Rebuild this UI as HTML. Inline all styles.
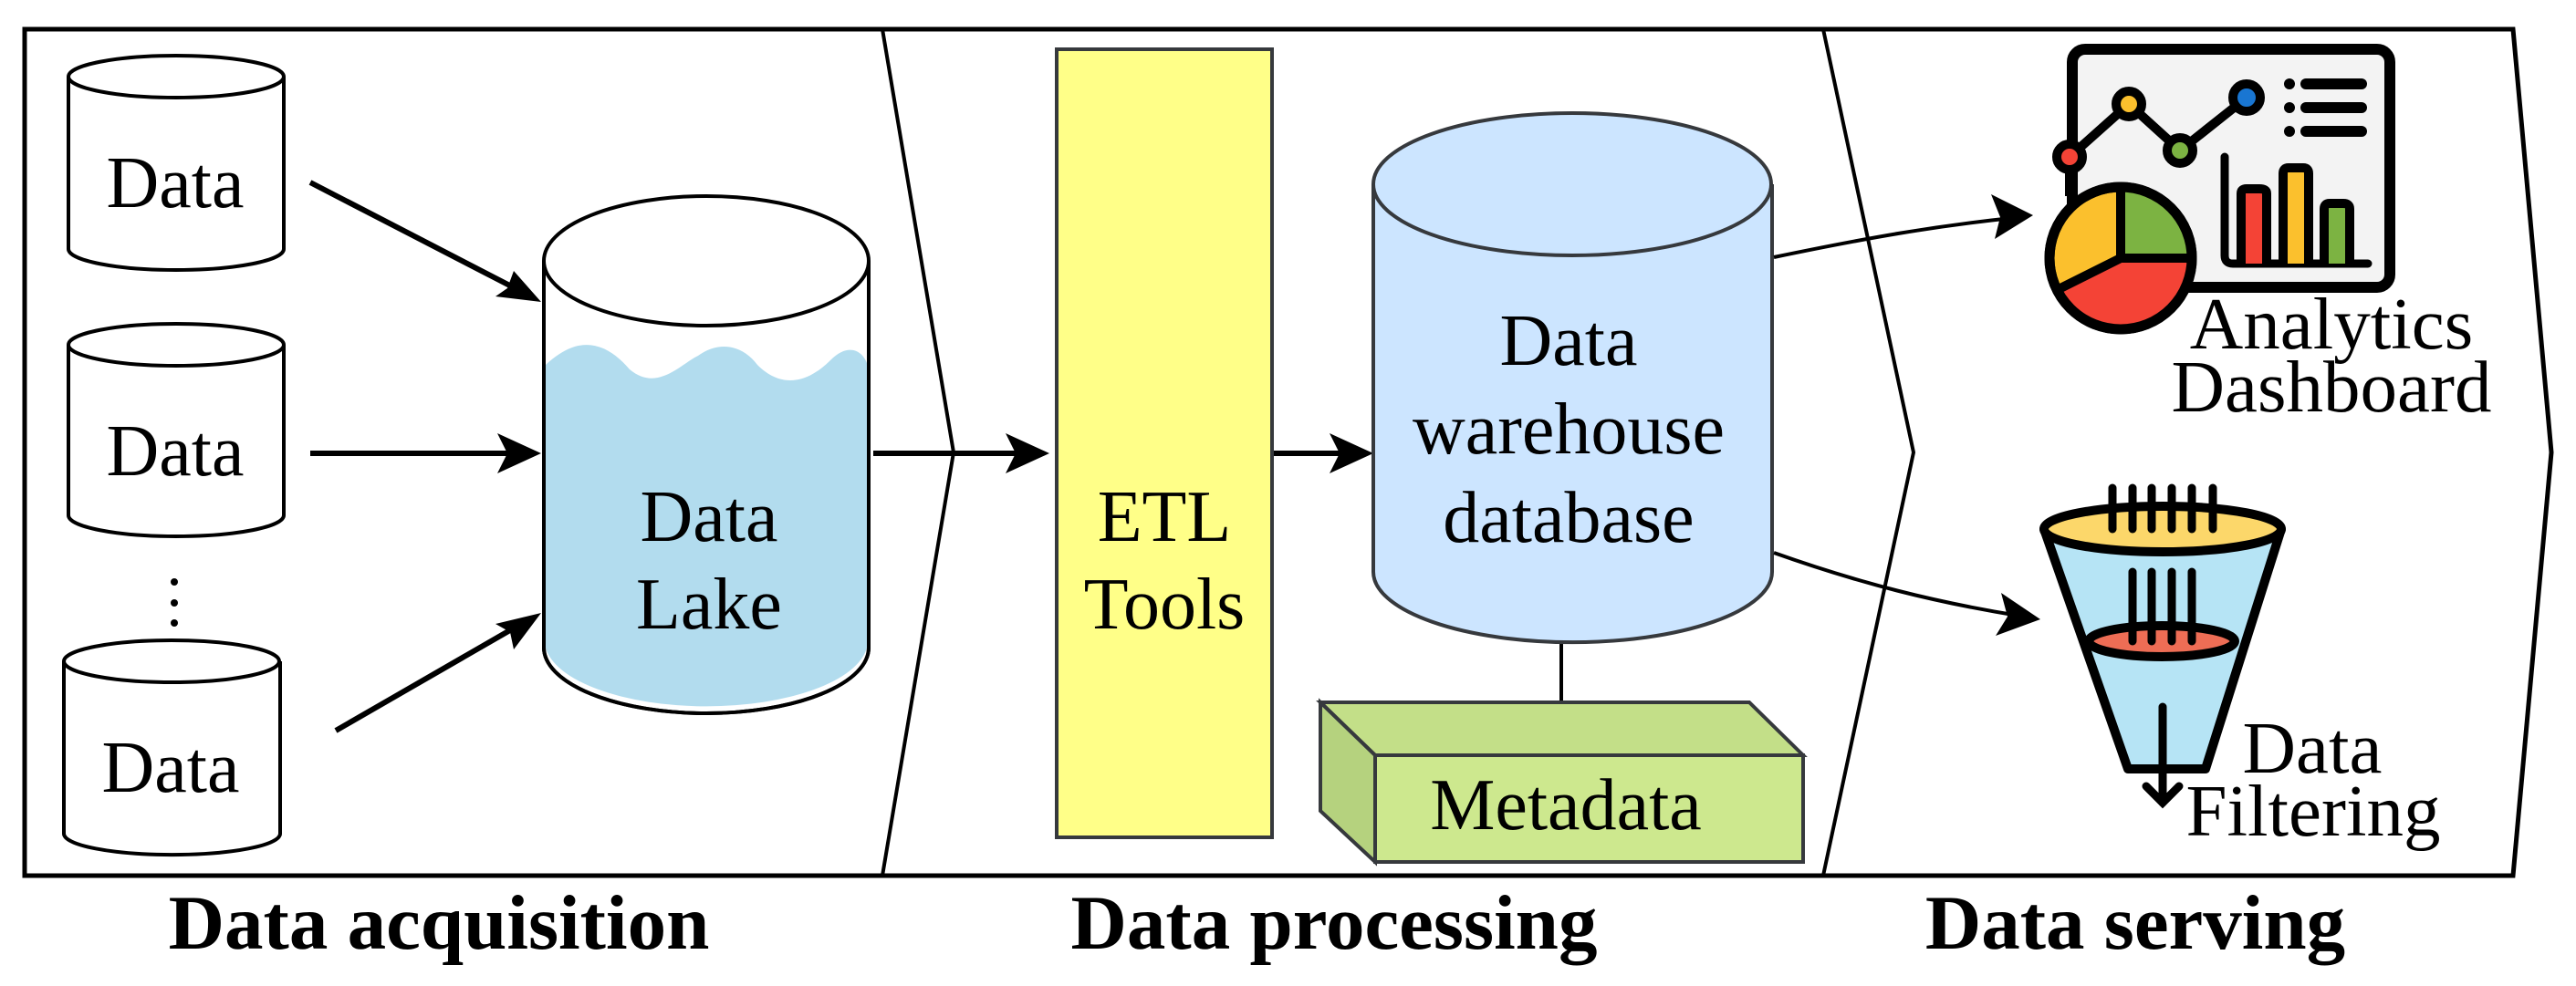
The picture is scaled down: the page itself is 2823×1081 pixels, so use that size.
<!DOCTYPE html>
<html><head><meta charset="utf-8"><style>
html,body{margin:0;padding:0;background:#fff}
svg{display:block}
text{font-family:"Liberation Serif",serif}
</style></head><body>
<svg width="2823" height="1081" viewBox="0 0 2823 1081" xmlns="http://www.w3.org/2000/svg">
<!-- frame -->
<polygon points="27,32 2754,32 2796,496 2754,960 27,960" fill="#fff" stroke="#000" stroke-width="5"/>
<polyline points="967,32 1045,496 967,960" fill="none" stroke="#000" stroke-width="4"/>
<polyline points="1998,32 2097,496 1998,960" fill="none" stroke="#000" stroke-width="4"/>

<!-- small cylinders -->
<g fill="#fff" stroke="#000" stroke-width="4">
<path d="M75,84 L75,273 A118,23 0 0 0 311,273 L311,84"/>
<ellipse cx="193" cy="84" rx="118" ry="23"/>
<path d="M75,378 L75,565 A118,23 0 0 0 311,565 L311,378"/>
<ellipse cx="193" cy="378" rx="118" ry="23"/>
<path d="M70,725 L70,914 A118,23 0 0 0 307,914 L307,725"/>
<ellipse cx="188" cy="725" rx="118" ry="23"/>
</g>
<g font-size="80" text-anchor="middle" fill="#000">
<text x="192" y="227">Data</text>
<text x="192" y="521">Data</text>
<text x="187" y="868">Data</text>
</g>
<circle cx="191" cy="638" r="4" fill="#000"/>
<circle cx="191" cy="661" r="4" fill="#000"/>
<circle cx="191" cy="683" r="4" fill="#000"/>

<!-- arrows acquisition -->
<g stroke="#000" stroke-width="6" fill="none">
<line x1="340" y1="200" x2="578" y2="323"/>
<line x1="340" y1="497" x2="578" y2="497"/>
<line x1="368" y1="801" x2="578" y2="680"/>
<line x1="957" y1="497" x2="1135" y2="497"/>
<line x1="1394" y1="497" x2="1490" y2="497"/>
</g>
<g fill="#000">
<polygon points="593,331 543,325 556,316 563,297"/>
<polygon points="593,497 545,475 556,497 545,519"/>
<polygon points="593,672 563,712 559,693 543,684"/>
<polygon points="1150,497 1102,475 1113,497 1102,519"/>
<polygon points="1505,497 1457,475 1468,497 1457,519"/>
</g>

<!-- data lake -->
<path d="M596,286 L596,710 A178,72 0 0 0 952,710 L952,286" fill="#fff" stroke="#000" stroke-width="4"/>
<path d="M598,400 C630,370 660,370 690,405 C720,430 745,400 765,390 C790,372 815,380 830,400 C860,430 890,415 910,395 C930,375 945,385 950,398 L950,710 A177,72 0 0 1 598,710 Z" fill="#b2dcee"/>
<path d="M596,286 L596,710 A178,72 0 0 0 952,710 L952,286" fill="none" stroke="#000" stroke-width="4"/>
<ellipse cx="774" cy="286" rx="178" ry="71" fill="#fff" stroke="#000" stroke-width="4"/>
<g font-size="80" text-anchor="middle"><text x="777" y="593">Data</text><text x="777" y="689">Lake</text></g>

<!-- ETL -->
<rect x="1158" y="54" width="236" height="864" fill="#ffff88" stroke="#36393d" stroke-width="4"/>
<g font-size="80" text-anchor="middle"><text x="1276" y="593">ETL</text><text x="1276" y="689">Tools</text></g>

<!-- DW -->
<line x1="1711" y1="700" x2="1711" y2="770" stroke="#000" stroke-width="4"/>
<path d="M1505,202 L1505,627 A218,77 0 0 0 1942,627 L1942,202" fill="#cce5ff" stroke="#36393d" stroke-width="4"/>
<ellipse cx="1723" cy="202" rx="218" ry="78" fill="#cce5ff" stroke="#36393d" stroke-width="4"/>
<g font-size="80" text-anchor="middle"><text x="1719" y="400">Data</text><text x="1719" y="497">warehouse</text><text x="1719" y="594">database</text></g>

<!-- metadata -->
<polygon points="1447,770 1917,770 1976,828 1507,828" fill="#c3df88" stroke="#36393d" stroke-width="4"/>
<polygon points="1447,770 1507,828 1507,945 1447,889" fill="#b5d27e" stroke="#36393d" stroke-width="4"/>
<rect x="1507" y="828" width="469" height="117" fill="#cde88e" stroke="#36393d" stroke-width="4"/>
<text x="1716" y="909" font-size="80" text-anchor="middle">Metadata</text>

<!-- curved arrows -->
<path d="M1944,282 C2050,260 2120,248 2205,239" fill="none" stroke="#000" stroke-width="4"/>
<polygon points="2228,236 2182,213 2192,238 2186,262" fill="#000"/>
<path d="M1944,606 C2040,640 2120,660 2212,675" fill="none" stroke="#000" stroke-width="4"/>
<polygon points="2236,679 2193,650 2200,676 2187,697" fill="#000"/>

<!-- dashboard icon -->
<rect x="2271" y="54" width="348" height="261" rx="14" fill="#f3f3f3" stroke="#000" stroke-width="12"/>
<polyline points="2268,172 2333,114 2389,165 2462,107" fill="none" stroke="#000" stroke-width="10"/>
<line x1="2268" y1="172" x2="2268" y2="215" stroke="#000" stroke-width="10"/>
<g stroke="#000" stroke-width="10">
<circle cx="2268" cy="172" r="14" fill="#f44336"/>
<circle cx="2333" cy="114" r="14" fill="#fbc02d"/>
<circle cx="2389" cy="165" r="14" fill="#7cb342"/>
<circle cx="2462" cy="107" r="15" fill="#1976d2"/>
</g>
<g fill="#000"><circle cx="2509" cy="92" r="6"/><circle cx="2509" cy="118" r="6"/><circle cx="2509" cy="144" r="6"/></g>
<g stroke="#000" stroke-width="12" stroke-linecap="round">
<line x1="2527" y1="92" x2="2588" y2="92"/><line x1="2527" y1="118" x2="2588" y2="118"/><line x1="2527" y1="144" x2="2588" y2="144"/>
</g>
<path d="M2438,172 L2438,280 Q2438,289 2447,289 L2595,289" fill="none" stroke="#000" stroke-width="9" stroke-linecap="round"/>
<g stroke="#000" stroke-width="10">
<path d="M2456,289 L2456,212 Q2456,207 2462,207 L2476,207 Q2484,207 2484,212 L2484,289" fill="#f44336"/>
<path d="M2502,289 L2502,190 Q2502,184 2508,184 L2524,184 Q2530,184 2530,190 L2530,289" fill="#fbc02d"/>
<path d="M2547,289 L2547,229 Q2547,223 2553,223 L2568,223 Q2575,223 2575,229 L2575,289" fill="#7cb342"/>
</g>
<circle cx="2324" cy="283" r="78" fill="#fbc02d" stroke="#000" stroke-width="11"/>
<path d="M2324,283 L2324,205 A78,78 0 0 1 2402,283 Z" fill="#7cb342"/>
<path d="M2324,283 L2402,283 A78,78 0 0 1 2254,318 Z" fill="#f44336"/>
<circle cx="2324" cy="283" r="78" fill="none" stroke="#000" stroke-width="11"/>
<polyline points="2324,205 2324,283 2402,283" fill="none" stroke="#000" stroke-width="10"/>
<line x1="2324" y1="283" x2="2254" y2="318" stroke="#000" stroke-width="10"/>
<g font-size="81" text-anchor="middle"><text x="2555" y="382">Analytics</text><text x="2555" y="451">Dashboard</text></g>

<!-- funnel -->
<polygon points="2240,580 2500,580 2417,843 2332,843" fill="#b6e4f5" stroke="#000" stroke-width="10" stroke-linejoin="round"/>
<ellipse cx="2370" cy="580" rx="130" ry="25" fill="#fcd76a" stroke="#000" stroke-width="10"/>
<ellipse cx="2369" cy="703" rx="80" ry="17" fill="#ee6d55" stroke="#000" stroke-width="10"/>
<g stroke="#000" stroke-width="9" stroke-linecap="round">
<line x1="2315" y1="535" x2="2315" y2="580"/><line x1="2337" y1="535" x2="2337" y2="580"/><line x1="2358" y1="535" x2="2358" y2="580"/><line x1="2380" y1="535" x2="2380" y2="580"/><line x1="2402" y1="535" x2="2402" y2="580"/><line x1="2425" y1="535" x2="2425" y2="580"/>
<line x1="2337" y1="627" x2="2337" y2="703"/><line x1="2358" y1="627" x2="2358" y2="703"/><line x1="2380" y1="627" x2="2380" y2="703"/><line x1="2402" y1="627" x2="2402" y2="703"/>
<line x1="2370" y1="775" x2="2370" y2="880"/>
<polyline points="2352,862 2370,880 2388,862" fill="none"/>
</g>
<g font-size="81" text-anchor="middle"><text x="2534" y="847">Data</text><text x="2535" y="916">Filtering</text></g>

<!-- section labels -->
<g font-size="85" font-weight="bold" text-anchor="middle">
<text x="481" y="1040">Data acquisition</text>
<text x="1462" y="1040">Data processing</text>
<text x="2340" y="1040">Data serving</text>
</g>
</svg>
</body></html>
